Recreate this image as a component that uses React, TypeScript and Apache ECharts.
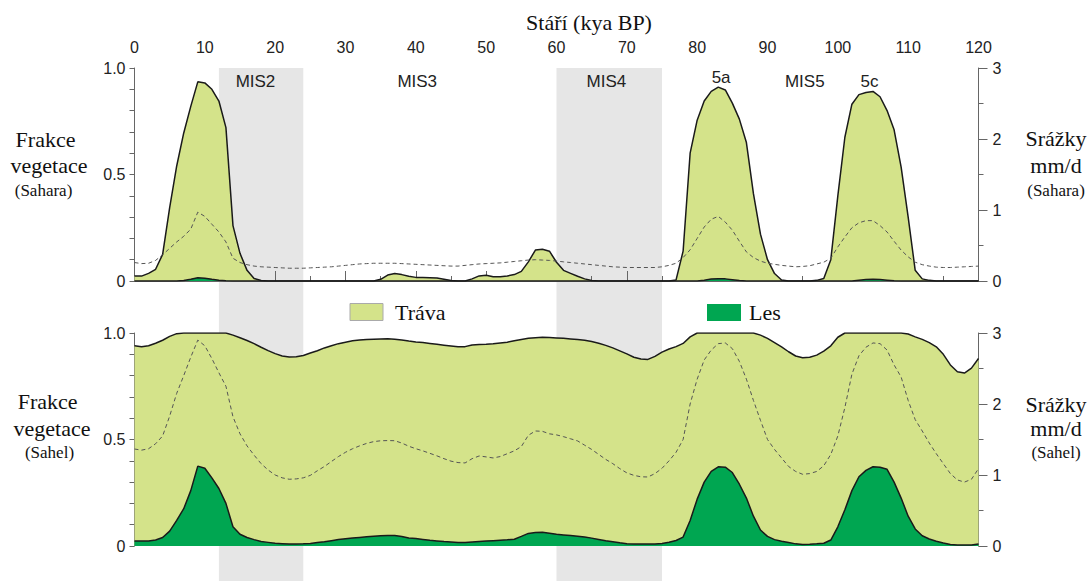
import React, { useEffect, useRef } from "react";
import * as echarts from "echarts";

// ages in kyr BP
const AGES = [
  0, 1, 2, 3, 4, 5, 6, 7, 8, 9, 10, 11, 12, 13, 14, 15, 16, 17, 18, 19, 20, 21, 22, 23, 24, 25, 26, 27, 28, 29,
  30, 31, 32, 33, 34, 35, 36, 37, 38, 39, 40, 41, 42, 43, 44, 45, 46, 47, 48, 49, 50, 51, 52, 53, 54, 55, 56, 57, 58, 59,
  60, 61, 62, 63, 64, 65, 66, 67, 68, 69, 70, 71, 72, 73, 74, 75, 76, 77, 78, 79, 80, 81, 82, 83, 84, 85, 86, 87, 88, 89,
  90, 91, 92, 93, 94, 95, 96, 97, 98, 99, 100, 101, 102, 103, 104, 105, 106, 107, 108, 109, 110, 111, 112, 113, 114, 115, 116, 117, 118, 119, 120,
];

// Sahara – total vegetation fraction (grass + forest)
const SAHARA_TOTAL = [
  0.023, 0.023, 0.036, 0.055, 0.125, 0.345, 0.54, 0.695, 0.82, 0.935,
  0.93, 0.9, 0.845, 0.72, 0.26, 0.13, 0.05, 0.012, 0.002, 0,
  0, 0, 0, 0, 0, 0, 0, 0, 0, 0,
  0, 0, 0, 0, 0, 0.008, 0.028, 0.035, 0.03, 0.022,
  0.017, 0.016, 0.015, 0.014, 0.008, 0.002, 0, 0, 0.01, 0.024,
  0.027, 0.02, 0.02, 0.024, 0.03, 0.045, 0.09, 0.145, 0.149, 0.14,
  0.088, 0.05, 0.036, 0.022, 0.01, 0.002, 0, 0, 0, 0,
  0, 0, 0, 0, 0, 0, 0, 0.005, 0.14, 0.6,
  0.755, 0.845, 0.89, 0.91, 0.897, 0.835, 0.76, 0.65, 0.41, 0.22,
  0.1, 0.035, 0.005, 0, 0, 0, 0, 0.003, 0.012, 0.1,
  0.4, 0.675, 0.83, 0.875, 0.885, 0.89, 0.865, 0.8, 0.71, 0.535,
  0.3, 0.05, 0.01, 0.003, 0, 0, 0, 0, 0, 0, 0,
];

// Sahara – forest fraction
const SAHARA_FOREST = [
  0, 0, 0, 0, 0, 0, 0, 0.002, 0.008, 0.015,
  0.013, 0.008, 0.004, 0.001, 0, 0, 0, 0, 0, 0,
  0, 0, 0, 0, 0, 0, 0, 0, 0, 0,
  0, 0, 0, 0, 0, 0, 0, 0, 0, 0,
  0, 0, 0, 0, 0, 0, 0, 0, 0, 0,
  0, 0, 0, 0, 0, 0, 0, 0, 0, 0,
  0, 0, 0, 0, 0, 0, 0, 0, 0, 0,
  0, 0, 0, 0, 0, 0, 0, 0, 0, 0,
  0, 0.004, 0.009, 0.011, 0.01, 0.006, 0.002, 0, 0, 0,
  0, 0, 0, 0, 0, 0, 0, 0, 0, 0,
  0, 0, 0, 0.004, 0.007, 0.008, 0.007, 0.004, 0.001, 0,
  0, 0, 0, 0, 0, 0, 0, 0, 0, 0, 0,
];

// Sahara – precipitation mm/d
const SAHARA_RAIN = [
  0.26, 0.245, 0.25, 0.29, 0.37, 0.46, 0.55, 0.63, 0.73, 0.97,
  0.91, 0.8, 0.69, 0.55, 0.32, 0.26, 0.23, 0.21, 0.2, 0.195,
  0.19, 0.185, 0.18, 0.18, 0.18, 0.185, 0.19, 0.195, 0.2, 0.21,
  0.22, 0.23, 0.24, 0.245, 0.25, 0.25, 0.25, 0.25, 0.245, 0.24,
  0.235, 0.23, 0.225, 0.22, 0.215, 0.21, 0.21, 0.22, 0.23, 0.24,
  0.245, 0.25, 0.255, 0.265, 0.275, 0.285, 0.295, 0.3, 0.295, 0.29,
  0.28, 0.27, 0.26, 0.25, 0.24, 0.23, 0.22, 0.21, 0.2, 0.195,
  0.19, 0.19, 0.19, 0.19, 0.19, 0.2, 0.22, 0.25, 0.33, 0.44,
  0.6, 0.76, 0.87, 0.91, 0.83, 0.716, 0.56, 0.41, 0.33, 0.28,
  0.25, 0.235, 0.22, 0.21, 0.2, 0.205, 0.215, 0.24, 0.265, 0.32,
  0.48, 0.62, 0.75, 0.82, 0.85, 0.85, 0.78, 0.69, 0.56, 0.435,
  0.34, 0.265, 0.23, 0.21, 0.195, 0.19, 0.19, 0.195, 0.2, 0.205, 0.21,
];

// Sahel – total vegetation fraction
const SAHEL_TOTAL = [
  0.94, 0.935, 0.94, 0.952, 0.966, 0.984, 0.997, 1, 1, 1,
  1, 1, 1, 1, 0.99, 0.978, 0.965, 0.95, 0.933, 0.917,
  0.903, 0.892, 0.887, 0.888, 0.894, 0.906, 0.917, 0.93, 0.94, 0.95,
  0.957, 0.964, 0.967, 0.97, 0.971, 0.972, 0.973, 0.971, 0.967, 0.962,
  0.958, 0.955, 0.951, 0.947, 0.943, 0.939, 0.935, 0.936, 0.944, 0.946,
  0.947, 0.949, 0.953, 0.957, 0.964, 0.97, 0.975, 0.978, 0.98, 0.979,
  0.977, 0.975, 0.972, 0.969, 0.966, 0.96, 0.952, 0.942, 0.93, 0.916,
  0.902, 0.886, 0.878, 0.876, 0.89, 0.91, 0.925, 0.936, 0.951, 0.982,
  1, 1, 1, 1, 1, 1, 1, 1, 1, 0.99,
  0.975, 0.955, 0.935, 0.912, 0.892, 0.884, 0.886, 0.896, 0.915, 0.94,
  0.98, 1, 1, 1, 1, 1, 1, 1, 1, 1,
  0.995, 0.982, 0.97, 0.955, 0.935, 0.9, 0.85, 0.818, 0.812, 0.835, 0.88,
];

// Sahel – forest fraction
const SAHEL_FOREST = [
  0.023, 0.023, 0.023, 0.028, 0.04, 0.07, 0.12, 0.175, 0.26, 0.375,
  0.365, 0.32, 0.27, 0.2, 0.09, 0.055, 0.04, 0.03, 0.021, 0.017,
  0.013, 0.011, 0.009, 0.009, 0.01, 0.012, 0.016, 0.02, 0.025, 0.03,
  0.034, 0.037, 0.04, 0.043, 0.046, 0.048, 0.049, 0.049, 0.045, 0.038,
  0.035, 0.031, 0.027, 0.024, 0.021, 0.019, 0.017, 0.017, 0.019, 0.021,
  0.023, 0.025, 0.027, 0.029, 0.032, 0.045, 0.059, 0.063, 0.064, 0.06,
  0.055, 0.052, 0.049, 0.046, 0.042, 0.037, 0.031, 0.025, 0.02, 0.015,
  0.011, 0.009, 0.009, 0.009, 0.009, 0.012, 0.018, 0.026, 0.042, 0.12,
  0.22, 0.3, 0.35, 0.372, 0.37, 0.345, 0.29, 0.225, 0.14, 0.075,
  0.045, 0.03, 0.022, 0.016, 0.01, 0.007, 0.008, 0.01, 0.013, 0.028,
  0.09, 0.17, 0.26, 0.325, 0.355, 0.372, 0.37, 0.36, 0.3, 0.225,
  0.14, 0.08, 0.048, 0.033, 0.022, 0.014, 0.007, 0.005, 0.005, 0.005, 0.009,
];

// Sahel – precipitation mm/d
const SAHEL_RAIN = [
  1.366, 1.35, 1.37, 1.44, 1.55, 1.83, 2.15, 2.4, 2.66, 2.9,
  2.82, 2.64, 2.44, 2.25, 1.82, 1.58, 1.41, 1.28, 1.16, 1.07,
  1.0, 0.96, 0.94, 0.945, 0.96, 0.995, 1.06, 1.12, 1.19, 1.26,
  1.32, 1.37, 1.41, 1.445, 1.47, 1.482, 1.485, 1.483, 1.45, 1.405,
  1.37, 1.34, 1.305, 1.27, 1.23, 1.195, 1.175, 1.17, 1.23, 1.268,
  1.255, 1.24, 1.26, 1.3, 1.34, 1.4, 1.56, 1.62, 1.615, 1.58,
  1.565, 1.54, 1.51, 1.48, 1.42, 1.36, 1.29, 1.22, 1.16, 1.09,
  1.03, 0.995, 0.975, 0.972, 1.02, 1.094, 1.2, 1.32, 1.5, 2.0,
  2.35, 2.62, 2.76, 2.85, 2.86, 2.78, 2.6, 2.35, 2.05, 1.77,
  1.5, 1.36, 1.24, 1.12, 1.05, 1.01, 1.02, 1.05, 1.13, 1.29,
  1.55, 1.95, 2.42, 2.68, 2.8, 2.86, 2.85, 2.76, 2.55, 2.38,
  2.05, 1.78, 1.62, 1.45, 1.3, 1.16, 1.02, 0.93, 0.9, 0.94, 1.09,
];

// Marine isotope stage bands (kyr)
const MIS_BANDS = [
  [12, 24],
  [60, 75],
];

// Stage labels and their ages
const STAGE_NAMES = ["MIS2", "MIS3", "MIS4", "5a", "MIS5", "5c"];
const STAGE_AGES = [17.2, 40.2, 67.1, 83.4, 95.3, 104.5];

const X_TICKS_MIN = 0;
const X_TICKS_MAX = 120;

const GRASS = "#d4e38a";
const FOREST = "#00a651";
const OUTLINE = "#1a1a1a";
const AXIS = "#666";
const SERIF = "'Liberation Serif', 'Times New Roman', serif";
const SANS = "'Liberation Sans', Arial, sans-serif";
const NARROW = "'Liberation Sans Narrow', 'Liberation Sans', Arial, sans-serif";

const zip = (ys: number[]) => AGES.map((a, i) => [a, ys[i]]);

export default function App() {
  const ref = useRef<HTMLDivElement>(null);

  useEffect(() => {
    if (!ref.current) return;
    const chart = echarts.init(ref.current, undefined, { renderer: "svg" });

    const leftAxis = (grid: number) => ({
      gridIndex: grid,
      type: "value",
      min: 0,
      max: 1,
      interval: 0.5,
      position: "left",
      axisLine: { show: true, lineStyle: { color: AXIS, width: 1 } },
      axisTick: { show: true, length: 5, lineStyle: { color: AXIS } },
      minorTick: { show: true, splitNumber: 5, length: 5, lineStyle: { color: AXIS } },
      splitLine: { show: false },
      axisLabel: {
        fontSize: 16,
        color: "#222",
        fontFamily: SANS,
        margin: 9,
        formatter: (v: number) => (v === 1 ? "1.0" : String(v)),
      },
    });
    const rightAxis = (grid: number) => ({
      gridIndex: grid,
      type: "value",
      min: 0,
      max: 3,
      interval: 1,
      position: "right",
      axisLine: { show: true, lineStyle: { color: AXIS, width: 1 } },
      axisTick: { show: true, length: 9, lineStyle: { color: AXIS } },
      minorTick: { show: true, splitNumber: 2, length: 5, lineStyle: { color: AXIS } },
      splitLine: { show: false },
      axisLabel: { fontSize: 16, color: "#222", fontFamily: SANS, margin: 14 },
    });

    const area = (x: number, y: number, data: number[], color: string, z: number) => ({
      type: "line",
      xAxisIndex: x,
      yAxisIndex: y,
      data: zip(data),
      showSymbol: false,
      symbol: "none",
      lineStyle: { color: OUTLINE, width: 1.5 },
      areaStyle: { color, opacity: 1 },
      z,
      silent: true,
    });
    const rain = (x: number, y: number, data: number[]) => ({
      type: "line",
      xAxisIndex: x,
      yAxisIndex: y,
      data: zip(data),
      showSymbol: false,
      symbol: "none",
      lineStyle: { color: "#555", width: 1, type: [4, 3] },
      z: 5,
      silent: true,
    });

    chart.setOption({
      animation: false,
      grid: [
        { left: 134.5, right: 111.5, top: 68, height: 213 },
        { left: 134.5, right: 111.5, top: 333, height: 213 },
      ],
      xAxis: [
        {
          gridIndex: 0,
          type: "value",
          min: X_TICKS_MIN,
          max: X_TICKS_MAX,
          interval: 10,
          position: "top",
          axisLine: { show: true, lineStyle: { color: AXIS, width: 1 } },
          axisTick: { show: true, length: 10, lineStyle: { color: AXIS } },
          minorTick: { show: true, splitNumber: 2, length: 5, lineStyle: { color: AXIS } },
          splitLine: { show: false },
          axisLabel: { fontSize: 16, color: "#222", fontFamily: SANS, margin: 13 },
        },
        { gridIndex: 1, type: "value", min: X_TICKS_MIN, max: X_TICKS_MAX, show: false, splitLine: { show: false } },
      ],
      yAxis: [leftAxis(0), rightAxis(0), leftAxis(1), rightAxis(1)],
      series: [
        area(0, 0, SAHARA_TOTAL, GRASS, 2),
        area(0, 0, SAHARA_FOREST, FOREST, 3),
        rain(0, 1, SAHARA_RAIN),
        area(1, 2, SAHEL_TOTAL, GRASS, 2),
        area(1, 2, SAHEL_FOREST, FOREST, 3),
        rain(1, 3, SAHEL_RAIN),
      ],
    });

    const px = (age: number) => chart.convertToPixel({ xAxisIndex: 0 }, age) as number;
    const topY = chart.convertToPixel({ yAxisIndex: 0 }, 1) as number;

    const bands = MIS_BANDS.map(([a, b]) => ({
      type: "rect",
      z: -10,
      silent: true,
      shape: { x: px(a), y: topY, width: px(b) - px(a), height: 581 - topY },
      style: { fill: "#e6e6e6" },
    }));

    const stageLabels = STAGE_NAMES.map((name, i) => ({
      type: "text",
      z: 10,
      silent: true,
      x: px(STAGE_AGES[i]),
      y: name === "5a" ? 77 : 81,
      style: {
        text: name,
        fill: "#222",
        font: `17px ${NARROW}`,
        textAlign: "center",
        textVerticalAlign: "middle",
      },
    }));

    const txt = (text: string, x: number, y: number, size: number) => ({
      type: "text",
      z: 10,
      silent: true,
      x,
      y,
      style: {
        text,
        fill: "#111",
        font: `${size}px ${SERIF}`,
        textAlign: "center",
        textVerticalAlign: "middle",
      },
    });

    const legend = [
      {
        type: "rect",
        z: 10,
        silent: true,
        shape: { x: 350, y: 303.5, width: 33, height: 17 },
        style: { fill: GRASS, stroke: "#aaa", lineWidth: 1 },
      },
      {
        type: "text",
        z: 10,
        silent: true,
        x: 395,
        y: 312,
        style: { text: "Tráva", fill: "#111", font: `22px ${SERIF}`, textAlign: "left", textVerticalAlign: "middle" },
      },
      {
        type: "rect",
        z: 10,
        silent: true,
        shape: { x: 707, y: 304, width: 34, height: 17 },
        style: { fill: FOREST },
      },
      {
        type: "text",
        z: 10,
        silent: true,
        x: 749,
        y: 312,
        style: { text: "Les", fill: "#111", font: `22px ${SERIF}`, textAlign: "left", textVerticalAlign: "middle" },
      },
    ];

    chart.setOption({
      graphic: [
        ...bands,
        ...stageLabels,
        ...legend,
        txt("Stáří (kya BP)", 589, 22.6, 22),
        txt("Frakce", 45.5, 139.6, 22),
        txt("vegetace", 49, 165.6, 22),
        txt("(Sahara)", 43.5, 190.3, 17),
        txt("Srážky", 1056, 138.6, 22),
        txt("mm/d", 1056, 165, 22),
        txt("(Sahara)", 1056, 190.3, 17),
        txt("Frakce", 47.7, 401.6, 22),
        txt("vegetace", 52, 428.6, 22),
        txt("(Sahel)", 49.5, 452.3, 17),
        txt("Srážky", 1056, 404.5, 22),
        txt("mm/d", 1056, 428, 22),
        txt("(Sahel)", 1056, 452, 17),
      ],
    });

    return () => chart.dispose();
  }, []);

  return (
    <div
      ref={ref}
      style={{ position: "absolute", left: 0, top: 0, width: 1090, height: 581, background: "#fff" }}
    />
  );
}
